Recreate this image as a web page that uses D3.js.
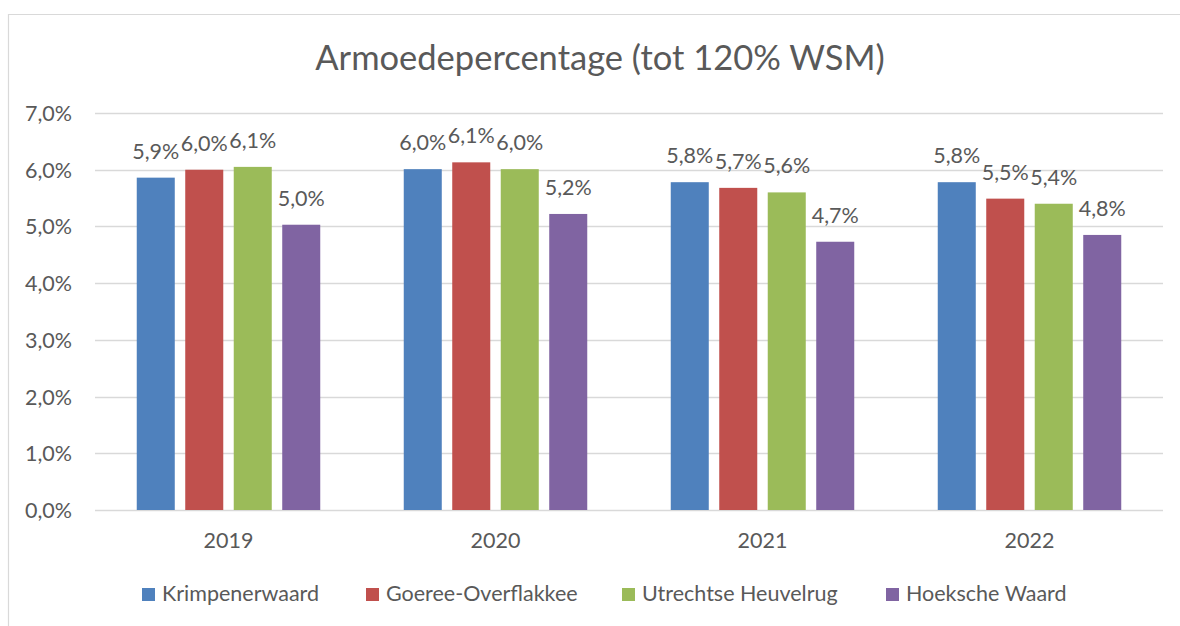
<!DOCTYPE html>
<html><head><meta charset="utf-8">
<script src="https://cdn.jsdelivr.net/npm/d3@7/dist/d3.min.js"></script>
<style>body{margin:0;background:#fff}svg{display:block}text{font-family:Lato,"Open Sans",sans-serif;fill:#595959}</style>
</head><body><svg id="c" width="1180" height="626"></svg>
<script>
const title = "Armoedepercentage (tot 120% WSM)";
const years = ["2019","2020","2021","2022"];
const seriesNames = ["Krimpenerwaard","Goeree-Overflakkee","Utrechtse Heuvelrug","Hoeksche Waard"];
const colors = ["#4f81bd","#c0504d","#9bbb59","#8064a2"];
const krimpenerwaard = [5.86, 6.01, 5.78, 5.78];
const goeree = [6.00, 6.13, 5.68, 5.49];
const utrechtse = [6.05, 6.01, 5.60, 5.40];
const hoeksche = [5.03, 5.22, 4.73, 4.85];
const labels = [["5,9%","6,0%","5,8%","5,8%"],["6,0%","6,1%","5,7%","5,5%"],["6,1%","6,0%","5,6%","5,4%"],["5,0%","5,2%","4,7%","4,8%"]];
const yTicks = [0,1,2,3,4,5,6,7];
const values = [krimpenerwaard, goeree, utrechtse, hoeksche];

const svg = d3.select("#c");
svg.append("path").attr("d","M8.5,626 V14.5 H1180").attr("fill","none").attr("stroke","#d9d9d9").attr("stroke-width",1.2);

svg.append("text").attr("x",600).attr("y",70).attr("text-anchor","middle").style("font-size","34.5px").text(title);

const y = d3.scaleLinear().domain([0,7]).range([510,113]);
const x = d3.scaleBand().domain(years).range([95,1163]);
const xs = d3.scaleBand().domain(seriesNames).range([41.75, 267-41.75]).paddingInner(0.216);

svg.append("g").selectAll("line").data(yTicks).join("line")
  .attr("x1",95).attr("x2",1163).attr("y1",d=>Math.round(y(d))+0.5).attr("y2",d=>Math.round(y(d))+0.5)
  .attr("stroke","#d9d9d9").attr("stroke-width",1.3);

svg.append("g").selectAll("text").data(yTicks).join("text")
  .attr("x",72).attr("y",d=>y(d)+8).attr("text-anchor","end").style("font-size","21.5px")
  .text(d=>d3.format(".1f")(d).replace(".",",")+"%");

svg.append("g").selectAll("text").data(years).join("text")
  .attr("x",d=>x(d)+x.bandwidth()/2).attr("y",548).attr("text-anchor","middle").style("font-size","21.5px").text(d=>d);

seriesNames.forEach((s,si)=>{
  const g = svg.append("g");
  g.selectAll("rect").data(years).join("rect")
    .attr("x",(d)=>x(d)+xs(s)).attr("width",xs.bandwidth())
    .attr("y",(d,i)=>y(values[si][i])).attr("height",(d,i)=>y(0)-y(values[si][i]))
    .attr("fill",colors[si]);
  g.selectAll("text").data(years).join("text")
    .attr("x",d=>x(d)+xs(s)+xs.bandwidth()/2).attr("y",(d,i)=>y(values[si][i])-19)
    .attr("text-anchor","middle").style("font-size","21.5px").text((d,i)=>labels[si][i]);
});

const legendX = [142,366,622,886];
const lg = svg.append("g");
seriesNames.forEach((s,i)=>{
  lg.append("rect").attr("x",legendX[i]).attr("y",588).attr("width",13).attr("height",13).attr("fill",colors[i]);
  lg.append("text").attr("x",legendX[i]+20).attr("y",601).style("font-size","21.5px").text(s);
});
</script></body></html>
